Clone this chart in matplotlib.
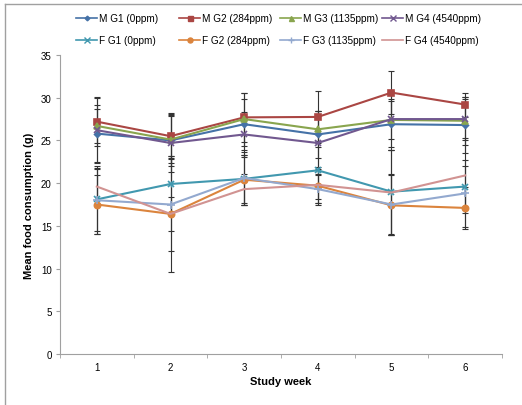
import numpy as np
from matplotlib import pyplot as plt
from matplotlib.lines import Line2D

plt.rcParams["font.family"] = ["Liberation Sans", "DejaVu Sans"]

weeks = [1, 2, 3, 4, 5, 6]

labels = ["M G1 (0ppm)", "M G2 (284ppm)", "M G3 (1135ppm)", "M G4 (4540ppm)",
          "F G1 (0ppm)", "F G2 (284ppm)", "F G3 (1135ppm)", "F G4 (4540ppm)"]

m_g1 = [25.8, 25.0, 26.9, 25.7, 26.9, 26.8]
m_g2 = [27.2, 25.5, 27.7, 27.75, 30.6, 29.2]
m_g3 = [26.7, 25.1, 27.5, 26.3, 27.4, 27.3]
m_g4 = [26.2, 24.7, 25.7, 24.7, 27.5, 27.5]
f_g1 = [18.1, 19.9, 20.5, 21.5, 19.0, 19.6]
f_g2 = [17.5, 16.4, 20.4, 19.7, 17.4, 17.1]
f_g3 = [18.0, 17.5, 20.6, 19.3, 17.5, 18.8]
f_g4 = [19.6, 16.4, 19.3, 19.8, 18.9, 20.9]

sd_m_g1 = [3.3, 3.0, 3.0, 2.7, 3.0, 3.3]
sd_m_g2 = [2.8, 2.7, 2.9, 3.0, 2.5, 1.4]
sd_m_g3 = [2.0, 2.8, 3.1, 2.1, 2.2, 2.8]
sd_m_g4 = [3.9, 3.4, 2.6, 3.7, 3.3, 2.4]
sd_f_g1 = [3.7, 3.3, 2.8, 3.4, 4.9, 2.4]
sd_f_g2 = [3.5, 6.8, 2.9, 2.0, 3.5, 2.5]
sd_f_g3 = [4.0, 5.4, 3.1, 1.8, 3.6, 3.9]
sd_f_g4 = [2.0, 2.0, 1.8, 2.1, 5.0, 4.4]

means = [m_g1, m_g2, m_g3, m_g4, f_g1, f_g2, f_g3, f_g4]
sds = [sd_m_g1, sd_m_g2, sd_m_g3, sd_m_g4, sd_f_g1, sd_f_g2, sd_f_g3, sd_f_g4]

colors = ["#4572A7", "#AA4643", "#89A54E", "#71588F",
          "#4198AF", "#DB843D", "#93A9CF", "#D19392"]
markers = ["D", "s", "^", "x", "x", "o", "+", None]
msizes = [3, 4.5, 4.5, 5, 5, 4.5, 6, 0]

fig = plt.figure(figsize=(5.22, 4.06), dpi=100, facecolor="white")
ax = fig.add_axes([60 / 522, 51 / 406, 442 / 522, 299 / 406])

handles = []
for i in range(8):
    ax.errorbar(weeks, means[i], yerr=sds[i], fmt="none", ecolor="#333333",
                elinewidth=0.8, capsize=2, capthick=0.8, zorder=2)
for i in range(8):
    ax.plot(weeks, means[i], color=colors[i], lw=1.5, marker=markers[i],
            ms=msizes[i], mew=1.2, zorder=3)
    if i == 4:
        ax.plot(weeks, means[i], ls="none", marker="|", ms=5, mew=1.0,
                color=colors[i], zorder=3)
    handles.append(Line2D([], [], color=colors[i], lw=1.2, marker=markers[i],
                          ms=msizes[i] * 0.8, mew=1.0))

ax.set_xlim(0.5, 6.5)
ax.set_ylim(0, 35)
ax.set_yticks(np.arange(0, 36, 5))
ax.set_xticks(weeks)
ax.set_xticks(np.arange(0.5, 6.6, 1), minor=True)
ax.tick_params(axis="x", which="major", length=0, labelsize=7, pad=6)
ax.tick_params(axis="x", which="minor", length=3, color="#a0a0a0", direction="out")
ax.tick_params(axis="y", length=3, color="#a0a0a0", labelsize=7, pad=3)
for s in ["top", "right"]:
    ax.spines[s].set_visible(False)
for s in ["left", "bottom"]:
    ax.spines[s].set_color("#a0a0a0")

ax.set_xlabel("Study week", fontsize=8, fontweight="bold", labelpad=3)
ax.set_ylabel("Mean food consumption (g)", fontsize=8, fontweight="bold", labelpad=5)

# one legend per column, Excel-style fixed column positions
col_x = [76, 179, 280, 382]
for c in range(4):
    leg = fig.legend([handles[c], handles[c + 4]], [labels[c], labels[c + 4]],
                     loc="upper left", bbox_to_anchor=(col_x[c] / 522, 1 - 14 / 406),
                     frameon=False, fontsize=7.2, handlelength=2.1,
                     handletextpad=0.2, labelspacing=1.2, borderaxespad=0,
                     borderpad=0)

fig.add_artist(Line2D([5 / 522, 1], [1 - 5 / 406, 1 - 5 / 406], color="#a0a0a0", lw=1))
fig.add_artist(Line2D([5 / 522, 5 / 522], [0, 1 - 5 / 406], color="#a0a0a0", lw=1))

fig.savefig("out.png", dpi=100, facecolor="white")
